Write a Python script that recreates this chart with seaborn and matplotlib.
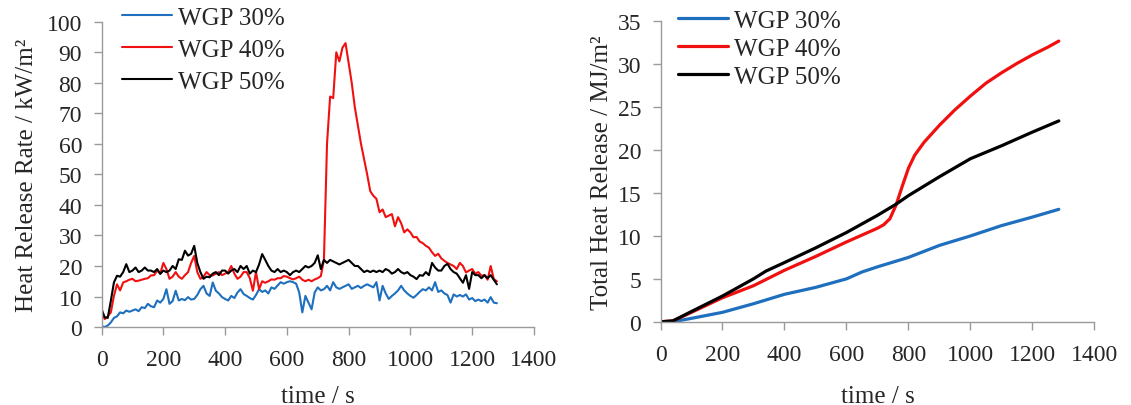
import matplotlib
matplotlib.use("Agg")
import matplotlib.pyplot as plt
import numpy as np
import pandas as pd
import seaborn as sns

# ── data ──────────────────────────────────────────────────────────────────────
SERIES = ["WGP 30%", "WGP 40%", "WGP 50%"]
COLORS = ["#1f6fbf", "#f01010", "#000000"]

# heat release rate, sampled every 10 s from 0 to 1280 s
hrr_time = np.arange(0, 1290, 10)

hrr_30 = [
    0.3, 0.0, 0.5, 1.5, 3.0, 3.5, 4.8, 4.5, 5.4, 5.0,
    5.4, 5.8, 5.2, 6.5, 6.2, 7.6, 6.8, 6.5, 8.7, 8.0,
    9.2, 12.4, 7.6, 8.5, 11.9, 8.7, 9.2, 8.8, 9.8, 9.0,
    9.2, 10.5, 12.4, 13.5, 11.0, 10.2, 14.6, 11.9, 11.0, 9.8,
    9.2, 8.7, 10.2, 9.5, 11.3, 12.4, 10.8, 10.2, 9.5, 9.0,
    10.5, 12.4, 11.5, 12.0, 11.0, 13.0, 12.5, 13.6, 14.7, 14.2,
    14.7, 15.0, 14.7, 14.2, 11.3, 4.8, 10.2, 8.0, 5.8, 11.3,
    13.0, 12.0, 12.4, 13.5, 12.0, 14.7, 13.0, 12.5, 13.0, 13.5,
    14.0, 12.5, 13.0, 13.5, 12.8, 13.5, 14.0, 13.5, 13.0, 14.7,
    8.7, 13.5, 11.0, 9.2, 10.2, 11.0, 12.0, 13.5, 12.0, 11.0,
    10.2, 9.6, 10.5, 11.5, 12.4, 12.0, 13.0, 12.0, 14.7, 11.5,
    12.0, 11.0, 10.5, 8.0, 10.7, 10.0, 10.5, 10.0, 10.7, 9.0,
    9.5, 8.5, 9.0, 8.5, 9.0, 8.0, 9.8, 8.0, 7.8,
]

hrr_40 = [
    4.8, 2.6, 3.5, 4.8, 10.2, 14.0, 12.0, 14.6, 15.0, 15.5,
    15.8, 15.0, 15.2, 15.5, 15.8, 16.0, 16.9, 17.0, 18.5, 17.5,
    21.0, 19.0, 15.8, 16.5, 18.0, 16.5, 15.8, 17.0, 18.0, 21.0,
    23.3, 18.0, 15.8, 16.5, 18.0, 17.0, 16.9, 17.5, 18.0, 17.0,
    17.5, 18.0, 20.0, 17.5, 15.8, 16.5, 18.0, 18.0, 16.0, 11.9,
    18.0, 12.4, 15.0, 14.5, 15.0, 15.6, 15.5, 16.0, 16.0, 16.7,
    16.5, 16.0, 15.6, 16.0, 16.5, 15.5, 15.0, 15.5, 15.0, 15.6,
    16.0, 16.7, 22.0, 60.0, 75.5, 75.0, 90.0, 87.0, 91.5, 93.0,
    86.5, 80.0, 72.0, 66.0, 60.0, 55.0, 50.0, 44.5, 43.0, 42.0,
    37.6, 38.5, 36.0, 36.5, 37.0, 33.0, 36.0, 34.0, 31.0, 32.0,
    31.0, 29.4, 29.5, 28.0, 27.5, 26.6, 26.0, 24.5, 23.3, 24.0,
    22.5, 21.7, 21.0, 20.5, 20.0, 19.0, 21.0, 20.0, 17.9, 18.5,
    19.0, 17.5, 18.0, 16.8, 17.0, 15.5, 20.0, 15.7, 15.0,
]

hrr_50 = [
    5.9, 3.2, 3.0, 8.6, 14.6, 16.8, 16.5, 18.0, 20.6, 18.0,
    18.5, 19.5, 18.0, 18.5, 19.5, 18.5, 18.5, 18.0, 19.0, 17.4,
    18.5, 18.0, 18.5, 20.0, 19.0, 22.2, 22.0, 25.0, 23.4, 24.0,
    26.6, 21.0, 18.0, 15.8, 16.5, 16.3, 17.5, 18.0, 17.0, 18.5,
    18.5, 17.5, 18.5, 19.0, 18.0, 20.0, 19.0, 20.0, 17.5, 18.5,
    18.0, 20.5, 23.9, 22.0, 20.0, 18.5, 18.0, 19.0, 18.0, 18.5,
    18.0, 17.0, 18.0, 18.5, 18.0, 19.0, 20.0, 19.5, 20.0, 21.0,
    23.5, 19.0, 22.0, 21.0, 22.0, 21.5, 21.0, 20.5, 21.0, 21.5,
    22.0, 21.0, 20.0, 20.0, 19.0, 18.0, 18.5, 18.0, 18.5, 18.0,
    18.5, 18.0, 19.0, 18.5, 17.5, 18.0, 19.0, 18.0, 17.5, 18.0,
    17.0, 16.5, 15.7, 17.0, 16.8, 18.0, 17.0, 21.0, 19.5, 18.5,
    18.5, 20.0, 20.7, 19.0, 18.0, 17.5, 16.0, 14.5, 17.0, 12.5,
    18.0, 17.0, 17.0, 16.0, 17.0, 16.0, 17.0, 15.5, 14.0,
]

# total heat release, read at irregular times
thr_30_time = [0, 40, 100, 200, 300, 400, 500, 600, 650, 700, 800, 900, 1000, 1100, 1200, 1285]
thr_30 = [0.0, 0.0, 0.4, 1.1, 2.1, 3.2, 4.0, 5.0, 5.8, 6.4, 7.5, 8.9, 10.0, 11.2, 12.2, 13.1]

thr_40_time = [0, 40, 100, 200, 300, 400, 500, 600, 700, 720, 740, 760, 780, 800, 820, 850,
               900, 950, 1000, 1050, 1100, 1150, 1200, 1250, 1285]
thr_40 = [0.0, 0.1, 1.1, 2.8, 4.2, 6.0, 7.6, 9.3, 10.9, 11.3, 12.0, 13.6, 15.8, 17.9, 19.4, 20.9,
          22.9, 24.7, 26.3, 27.8, 29.0, 30.1, 31.1, 32.0, 32.7]

thr_50_time = [0, 40, 100, 200, 300, 340, 400, 500, 600, 700, 760, 800, 900, 1000, 1100, 1200, 1285]
thr_50 = [0.0, 0.1, 1.2, 3.0, 5.0, 5.9, 6.9, 8.6, 10.4, 12.4, 13.7, 14.7, 16.9, 19.0, 20.5, 22.1, 23.4]


def long_frame(parts):
    frames = [pd.DataFrame({"time": t, "value": v, "series": name}) for name, t, v in parts]
    return pd.concat(frames, ignore_index=True)


hrr_df = long_frame([
    ("WGP 30%", hrr_time, hrr_30),
    ("WGP 40%", hrr_time, hrr_40),
    ("WGP 50%", hrr_time, hrr_50),
])
thr_df = long_frame([
    ("WGP 30%", thr_30_time, thr_30),
    ("WGP 40%", thr_40_time, thr_40),
    ("WGP 50%", thr_50_time, thr_50),
])

# ── style ─────────────────────────────────────────────────────────────────────
sns.set_style("white")
plt.rcParams["font.family"] = ["Liberation Serif", "DejaVu Serif"]

AXIS_GREY = "#9a9a9a"

fig = plt.figure(figsize=(11.31, 4.06), dpi=100)
ax1 = fig.add_axes([0.0898, 0.192, 0.3823, 0.752])
ax2 = fig.add_axes([0.584, 0.205, 0.3837, 0.740])


def style_axis(ax, df, lw, ylim, yticks, ylabel, legend_anchor, spacing, ylab_x, xlab_y):
    sns.lineplot(
        data=df, x="time", y="value", hue="series", hue_order=SERIES,
        palette=COLORS, sort=False, estimator=None, linewidth=lw, ax=ax,
    )
    ax.set_xlim(0, 1400)
    ax.set_ylim(*ylim)
    ax.set_xticks(range(0, 1401, 200))
    ax.set_yticks(yticks)
    for side in ("top", "right"):
        ax.spines[side].set_visible(False)
    for side in ("left", "bottom"):
        ax.spines[side].set_color(AXIS_GREY)
        ax.spines[side].set_linewidth(1.0)
    ax.tick_params(axis="x", direction="out", length=6, width=1.0, color=AXIS_GREY,
                   labelsize=17, pad=10, bottom=True)
    ax.tick_params(axis="y", direction="out", length=6, width=1.0, color=AXIS_GREY,
                   labelsize=17, pad=8, left=True)
    ax.set_xlabel("time / s", fontsize=18)
    ax.set_ylabel(ylabel, fontsize=18)
    ax.xaxis.set_label_coords(0.5, xlab_y)
    ax.yaxis.set_label_coords(ylab_x, 0.5)
    handles, labels = ax.get_legend_handles_labels()
    for h in handles:
        h.set_linewidth(lw)
    ax.legend(handles, labels, loc="upper left", bbox_to_anchor=legend_anchor,
              frameon=False, fontsize=18, handlelength=2.0, handletextpad=0.25,
              labelspacing=spacing, borderpad=0, borderaxespad=0)


style_axis(ax1, hrr_df, 1.5, (0, 100), range(0, 101, 10),
           "Heat Release Rate / kW/m²", (0.047, 1.05), 0.38, -0.148, -0.19)
style_axis(ax2, thr_df, 2.3, (0, 35), range(0, 36, 5),
           "Total Heat Release / MJ/m²", (0.04, 1.04), 0.22, -0.11, -0.21)

fig.savefig("out.png", dpi=100)
